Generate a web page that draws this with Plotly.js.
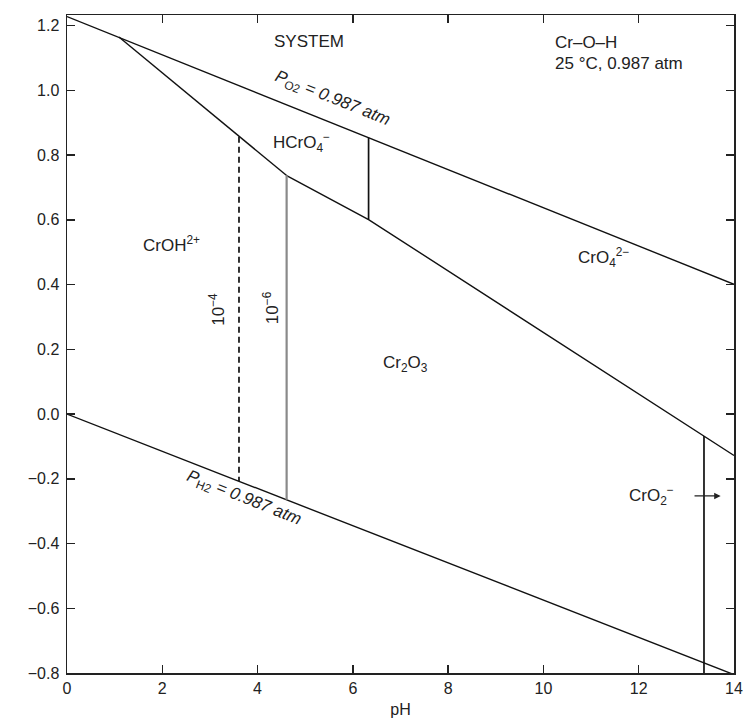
<!DOCTYPE html>
<html>
<head>
<meta charset="utf-8">
<script src="https://cdn.plot.ly/plotly-3.0.1.min.js"></script>
<style>html,body{margin:0;padding:0;background:#fff;}#chart{width:743px;height:720px;}</style>
</head>
<body>
<div id="chart"></div>
<script>
// Pourbaix diagram, Cr–O–H system (E in volts vs pH)
var pH_O2 = [0, 14];
var E_O2 = [1.228, 0.401];
var pH_H2 = [0, 14];
var E_H2 = [0, -0.805];
var pH_CrOH_HCrO4 = [1.09, 4.61];
var E_CrOH_HCrO4 = [1.165, 0.737];
var pH_Cr2O3_upper = [4.61, 6.33, 14];
var E_Cr2O3_upper = [0.737, 0.601, -0.128];
var pH_HCrO4_CrO4 = [6.33, 6.33];
var E_HCrO4_CrO4 = [0.601, 0.854];
var pH_CrO2 = [13.37, 13.37];
var E_CrO2 = [-0.068, -0.8];
var pH_act4 = [3.61, 3.61];
var E_act4 = [0.857, -0.207];
var pH_act6 = [4.61, 4.61];
var E_act6 = [0.737, -0.265];

var xTicks = [0, 2, 4, 6, 8, 10, 12, 14];
var yTicks = [-0.8, -0.6, -0.4, -0.2, 0.0, 0.2, 0.4, 0.6, 0.8, 1.0, 1.2];

var FONT = 'Liberation Sans, Arial, Helvetica, sans-serif';
function line(x, y, color, width, dash) {
  return {x: x, y: y, type: 'scatter', mode: 'lines', hoverinfo: 'skip', cliponaxis: true,
          line: {color: color, width: width, dash: dash || 'solid'}, showlegend: false};
}
var data = [
  line(pH_O2, E_O2, '#111', 1.4),
  line(pH_H2, E_H2, '#111', 1.4),
  line(pH_CrOH_HCrO4, E_CrOH_HCrO4, '#111', 1.4),
  line(pH_Cr2O3_upper, E_Cr2O3_upper, '#111', 1.4),
  line(pH_HCrO4_CrO4, E_HCrO4_CrO4, '#111', 1.7),
  line(pH_CrO2, E_CrO2, '#111', 1.7),
  line(pH_act4, E_act4, '#111', 1.7, '6px,4px'),
  line(pH_act6, E_act6, '#8a8a8a', 2.2)
];

function ann(x, y, text, opts) {
  var a = {x: x, y: y, xref: 'x', yref: 'y', text: text, showarrow: false,
           font: {family: FONT, size: 17, color: '#222'}};
  for (var k in opts) a[k] = opts[k];
  return a;
}

var layout = {
  width: 743, height: 720,
  margin: {l: 67, r: 9, t: 15, b: 47},
  paper_bgcolor: '#fff', plot_bgcolor: '#fff',
  font: {family: FONT, size: 16, color: '#222'},
  xaxis: {range: [0, 14], tickvals: xTicks, ticks: 'inside', ticklen: 8, tickwidth: 1.5,
          tickcolor: '#222', showline: true, linecolor: '#222', linewidth: 1.5, mirror: 'ticks',
          showgrid: false, zeroline: false, tickfont: {size: 16}, ticklabeloverflow: 'allow',
          title: {text: 'pH', font: {size: 16}, standoff: 8}},
  yaxis: {range: [-0.8, 1.233], tickvals: yTicks, tickformat: '.1f', ticks: 'inside', ticklen: 8,
          tickwidth: 1.5, tickcolor: '#222', showline: true, linecolor: '#222', linewidth: 1.5,
          mirror: 'ticks', showgrid: false, zeroline: false, tickfont: {size: 16},
          ticklabelstandoff: 3},
  annotations: [
    ann(5.08, 1.15, 'SYSTEM'),
    ann(10.2, 1.147, 'Cr–O–H', {xanchor: 'left'}),
    ann(10.2, 1.083, '25 °C, 0.987 atm', {xanchor: 'left'}),
    ann(5.56, 0.972, '<i>P</i><sub>O2</sub><i> = 0.987 atm</i>', {textangle: 21.8}),
    ann(4.92, 0.839, 'HCrO<sub>4</sub><sup>−</sup>'),
    ann(2.2, 0.524, 'CrOH<sup>2+</sup>'),
    ann(3.16, 0.324, '10<sup>−4</sup>', {textangle: -90}),
    ann(4.28, 0.33, '10<sup>−6</sup>', {textangle: -90}),
    ann(7.11, 0.154, 'Cr<sub>2</sub>O<sub>3</sub>'),
    ann(11.26, 0.484, 'CrO<sub>4</sub><sup>2−</sup>'),
    ann(12.26, -0.253, 'CrO<sub>2</sub><sup>−</sup>'),
    {x: 13.72, y: -0.253, ax: 13.14, ay: -0.253, xref: 'x', yref: 'y', axref: 'x', ayref: 'y',
     text: '', showarrow: true, arrowhead: 2, arrowsize: 1, arrowwidth: 1.3, arrowcolor: '#222'},
    ann(3.72, -0.262, '<i>P</i><sub>H2</sub><i> = 0.987 atm</i>', {textangle: 21.8})
  ]
};

Plotly.newPlot('chart', data, layout, {displayModeBar: false, staticPlot: true});
</script>
</body>
</html>
